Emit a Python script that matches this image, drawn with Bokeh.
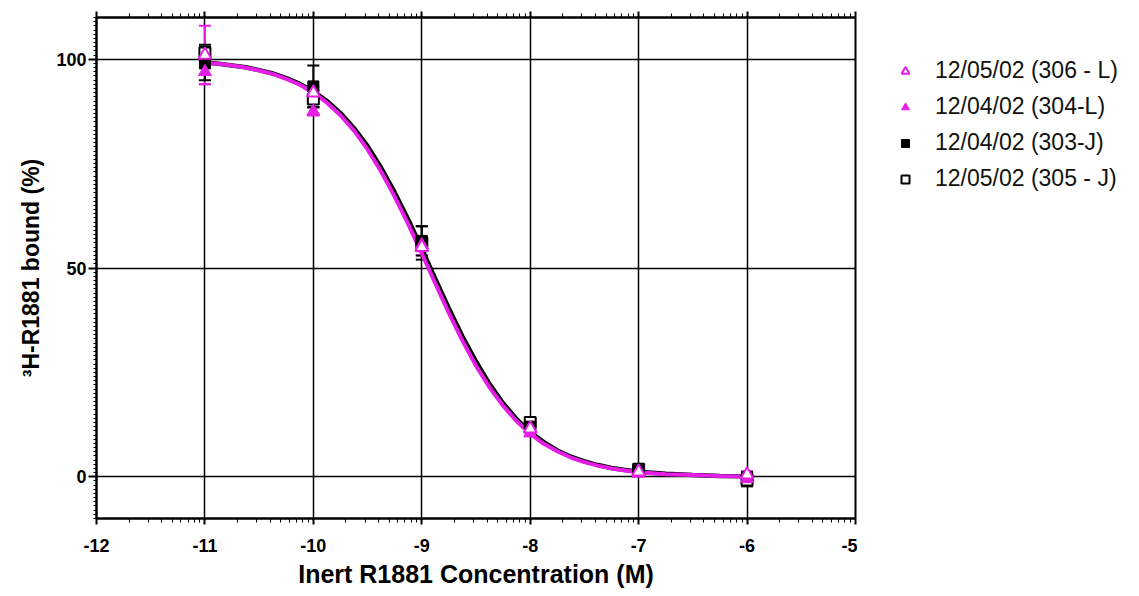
import math
from bokeh.plotting import figure
from bokeh.layouts import row
from bokeh.models import (Range1d, LinearAxis, FixedTicker, Legend, LegendItem,
                          Whisker, TeeHead, ColumnDataSource, CustomJSTickFormatter)
from bokeh.embed import file_html
from bokeh.resources import INLINE

# ---------------- data ----------------
log_conc = [-11, -10, -9, -8, -7, -6]

l306 = [101.0, 92.0, 55.0, 11.5, 1.2, 0.5]
l306_err = [7.0, 1.5, 2.0, 1.0, 0.8, 0.8]
l304 = [97.0, 87.5, 55.5, 10.5, 0.8, -0.5]
l304_err = [3.0, 1.0, 1.5, 0.8, 0.6, 1.0]
j303 = [99.0, 93.5, 56.5, 12.0, 1.5, 0.0]
j303_err = [4.0, 5.0, 3.5, 1.0, 0.8, 1.0]
j305 = [101.5, 90.5, 56.0, 13.0, 1.8, -0.8]
j305_err = [2.0, 2.0, 4.0, 1.0, 0.8, 1.5]

# fitted curves
curve_x = [-11.0, -10.875, -10.75, -10.625, -10.5, -10.375, -10.25, -10.125, -10.0,
           -9.875, -9.75, -9.625, -9.5, -9.375, -9.25, -9.125, -9.0,
           -8.875, -8.75, -8.625, -8.5, -8.375, -8.25, -8.125, -8.0,
           -7.875, -7.75, -7.625, -7.5, -7.375, -7.25, -7.125, -7.0,
           -6.75, -6.5, -6.25, -6.0]
curve_L = [99.1, 98.9, 98.5, 98.0, 97.3, 96.5, 95.3, 93.9, 92.0,
           89.6, 86.6, 82.9, 78.4, 73.1, 67.1, 60.5, 53.5,
           46.3, 39.2, 32.6, 26.6, 21.4, 17.0, 13.3, 10.3,
           7.9, 6.1, 4.6, 3.5, 2.65, 2.0, 1.5, 1.1,
           0.6, 0.4, 0.2, 0.1]
curve_J = [99.2, 98.9, 98.5, 98.1, 97.4, 96.6, 95.5, 94.1, 92.3,
           90.0, 87.1, 83.5, 79.2, 74.0, 68.1, 61.6, 54.6,
           47.4, 40.3, 33.6, 27.6, 22.2, 17.6, 13.8, 10.7,
           8.3, 6.3, 4.8, 3.7, 2.8, 2.1, 1.6, 1.2,
           0.7, 0.4, 0.2, 0.1]

labels = ["12/05/02 (306 - L)", "12/04/02 (304-L)", "12/04/02 (303-J)", "12/05/02 (305 - J)"]

x_ticks = [-12, -11, -10, -9, -8, -7, -6, -5]
x_grid = [-11, -10, -9, -8, -7, -6]
y_ticks = [0, 50, 100]

x_label = "Inert R1881 Concentration (M)"
y_label = "\u00b3H-R1881 bound (%)"

# ---------------- styling ----------------
MAG = "#E41EE4"
FONT = "Liberation Sans"

x_minor = [d + math.log10(k) for d in range(-12, -5) for k in range(2, 10)]
y_minor = list(range(-10, 111))

p = figure(width=857, height=596, x_range=Range1d(-12, -5), y_range=Range1d(-10, 110),
           output_backend="svg", toolbar_location=None,
           min_border_left=96, min_border_right=2, min_border_top=17, min_border_bottom=78)
p.background_fill_color = "white"
p.border_fill_color = "white"
p.outline_line_color = "black"
p.outline_line_width = 2

# axes
xa = p.xaxis[0]
xa.ticker = FixedTicker(ticks=x_ticks, minor_ticks=x_minor)
xa.formatter = CustomJSTickFormatter(code="return tick.toString()")
ya = p.yaxis[0]
ya.ticker = FixedTicker(ticks=y_ticks, minor_ticks=y_minor)
ya.formatter = CustomJSTickFormatter(code="return tick.toString()")
for ax in (xa, ya):
    ax.axis_line_color = "black"
    ax.axis_line_width = 2
    ax.major_tick_line_color = "black"
    ax.major_tick_line_width = 2
    ax.minor_tick_line_color = "black"
    ax.minor_tick_line_width = 1
    ax.major_label_text_font = FONT
    ax.major_label_text_font_style = "bold"
    ax.major_label_text_font_size = "18px"
    ax.major_label_text_color = "black"
    ax.axis_label_text_font = FONT
    ax.axis_label_text_font_style = "bold"
    ax.axis_label_text_font_size = "23px"
    ax.axis_label_text_color = "black"
    ax.major_tick_in = 0
    ax.minor_tick_in = 0
xa.major_tick_out = 6
xa.minor_tick_out = 4
xa.major_label_standoff = 14
xa.axis_label = x_label
xa.axis_label_text_font_size = "25px"
xa.axis_label_standoff = 5
ya.major_tick_out = 8
ya.minor_tick_out = 3
ya.major_label_standoff = 2
ya.axis_label = y_label
ya.axis_label_standoff = 9

top = LinearAxis(ticker=FixedTicker(ticks=x_ticks, minor_ticks=x_minor),
                 formatter=CustomJSTickFormatter(code="return ''"))
top.axis_line_width = 2
top.major_tick_line_width = 2
top.minor_tick_line_width = 1
top.major_tick_in = 0
top.minor_tick_in = 0
top.major_tick_out = 6
top.minor_tick_out = 4
top.major_label_standoff = 0
top.major_label_text_font_size = "1px"
p.add_layout(top, "above")

p.xgrid.ticker = FixedTicker(ticks=x_grid)
p.ygrid.ticker = FixedTicker(ticks=y_ticks)
for g in (p.xgrid, p.ygrid):
    g.grid_line_color = "black"
    g.grid_line_width = 1.5
    g.grid_line_alpha = 1.0

# fitted curves
p.line(curve_x, curve_J, line_color="black", line_width=4.5)
p.line(curve_x, curve_L, line_color=MAG, line_width=4)

# error bars
series = [
    (l306, l306_err, MAG),
    (l304, l304_err, MAG),
    (j303, j303_err, "black"),
    (j305, j305_err, "black"),
]
for vals, errs, col in series:
    src = ColumnDataSource(dict(x=log_conc,
                                upper=[v + e for v, e in zip(vals, errs)],
                                lower=[v - e for v, e in zip(vals, errs)]))
    w = Whisker(source=src, base="x", upper="upper", lower="lower", dimension="height",
                line_color=col, line_width=2,
                upper_head=TeeHead(size=12, line_color=col, line_width=2),
                lower_head=TeeHead(size=12, line_color=col, line_width=2))
    p.add_layout(w)

# markers
marker_styles = {
    "305": dict(marker="square", size=11, fill_color="white", line_color="black", line_width=2),
    "303": dict(marker="square", size=11, fill_color="black", line_color="black", line_width=1),
    "304": dict(marker="triangle", size=13, fill_color=MAG, line_color=MAG, line_width=1),
    "306": dict(marker="triangle", size=13, fill_color="white", line_color=MAG, line_width=2),
}
p.scatter(log_conc, j305, **marker_styles["305"])
p.scatter(log_conc, j303, **marker_styles["303"])
p.scatter(log_conc, l304, **marker_styles["304"])
p.scatter(log_conc, l306, **marker_styles["306"])

# legend panel to the right of the plot (its data lies outside its view)
lg = figure(width=282, height=596, x_range=Range1d(0, 1), y_range=Range1d(0, 1),
            output_backend="svg", toolbar_location=None,
            x_axis_location=None, y_axis_location=None, min_border=0)
lg.outline_line_color = None
lg.grid.visible = False
lg.background_fill_color = "white"
lg.border_fill_color = "white"
k306 = lg.scatter(log_conc, l306, **marker_styles["306"])
k304 = lg.scatter(log_conc, l304, **marker_styles["304"])
k303 = lg.scatter(log_conc, j303, **marker_styles["303"])
k305 = lg.scatter(log_conc, j305, **marker_styles["305"])

legend = Legend(items=[LegendItem(label=labels[0], renderers=[k306]),
                       LegendItem(label=labels[1], renderers=[k304]),
                       LegendItem(label=labels[2], renderers=[k303]),
                       LegendItem(label=labels[3], renderers=[k305])],
                location=(38, 326), padding=0, margin=0, spacing=9,
                glyph_width=20, glyph_height=26, label_height=26, label_standoff=20,
                label_text_font=FONT, label_text_font_size="23px",
                label_text_color="#111111",
                border_line_color=None, background_fill_alpha=0)
lg.add_layout(legend)

layout = row(p, lg)
open("out.html", "w").write(file_html(layout, INLINE))
